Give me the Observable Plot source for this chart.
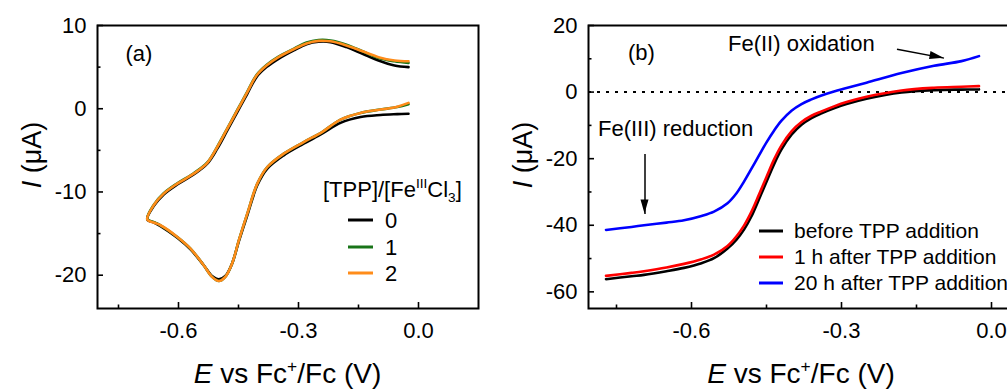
<!DOCTYPE html>
<html><head><meta charset="utf-8">
<script src="https://cdn.jsdelivr.net/npm/d3@7"></script>
<script src="https://cdn.jsdelivr.net/npm/@observablehq/plot@0.6"></script>
<style>
html,body{margin:0;padding:0;background:#fff;overflow:hidden;}
#wrap{position:relative;width:1007px;height:390px;overflow:hidden;background:#fff;}
#a,#b{position:absolute;top:0;}
#a{left:0;width:500px;} #b{left:500px;width:586px;}
#wrap svg{max-width:none !important;}
</style></head><body><div id="wrap"><div id="a"></div><div id="b"></div></div>
<script>
// ---------- Panel (a): cyclic voltammograms ----------
const cvE  = [-0.025,-0.06,-0.10,-0.14,-0.18,-0.22,-0.25,-0.28,-0.31,-0.35,-0.38,-0.405,-0.428,-0.453,-0.478,-0.503,-0.528,-0.562,-0.603,-0.637,-0.662,-0.678,
              -0.66,-0.645,-0.603,-0.57,-0.537,-0.516,-0.499,-0.483,-0.466,-0.449,-0.428,-0.403,-0.378,-0.337,-0.287,-0.241,-0.195,-0.145,-0.095,-0.053,-0.025];
const cvI0 = [5.0,5.2,5.8,6.6,7.4,8.0,8.05,7.75,7.05,6.0,5.0,3.8,1.8,-0.4,-2.6,-4.8,-6.6,-7.9,-9.1,-10.3,-11.7,-13.3,
              -13.7,-14.1,-15.5,-16.9,-18.8,-20.1,-20.5,-20.1,-18.6,-15.9,-12.8,-9.2,-7.2,-5.6,-4.2,-3.0,-1.7,-1.0,-0.75,-0.65,-0.6];
const cvI1 = [5.5,5.7,6.1,6.9,7.7,8.2,8.25,7.95,7.25,6.25,5.25,4.05,2.05,-0.15,-2.35,-4.55,-6.45,-7.75,-8.95,-10.15,-11.55,-13.25,
              -13.65,-14.0,-15.4,-16.8,-18.8,-20.2,-20.7,-20.2,-18.6,-15.8,-12.6,-9.0,-7.0,-5.4,-4.0,-2.8,-1.3,-0.5,-0.1,0.2,0.55];
const cvI2 = [5.7,5.8,6.2,6.9,7.6,8.1,8.15,7.85,7.2,6.2,5.2,4.0,2.0,-0.2,-2.4,-4.6,-6.5,-7.8,-9.0,-10.2,-11.6,-13.3,
              -13.7,-14.0,-15.4,-16.8,-18.8,-20.2,-20.7,-20.2,-18.6,-15.8,-12.6,-9.0,-7.0,-5.4,-4.0,-2.8,-1.3,-0.5,-0.1,0.25,0.7];
const cvRatios = ["0","1","2"];
const cvColors = ["#000000","#187418","#ff8c1a"];

// ---------- Panel (b): linear sweep voltammograms ----------
const lsvE      = [-0.771,-0.72,-0.695,-0.65,-0.615,-0.58,-0.555,-0.528,-0.51,-0.495,-0.48,-0.465,-0.45,-0.435,-0.42,-0.40,-0.38,-0.36,-0.34,-0.315,-0.29,-0.25,-0.18,-0.115,-0.06,-0.025];
const lsvBefore = [-56.2,-55.3,-54.9,-53.8,-52.8,-51.4,-49.9,-47.0,-44.3,-41.3,-37.3,-32.2,-26.9,-21.7,-17.2,-12.8,-9.8,-7.8,-6.4,-4.9,-3.6,-2.0,-0.1,0.6,0.75,0.8];
const lsv1h     = [-55.2,-54.3,-53.8,-52.7,-51.6,-50.2,-48.8,-46.2,-43.3,-40.1,-35.9,-30.8,-25.5,-20.3,-16.0,-11.8,-9.0,-7.1,-5.8,-4.3,-3.0,-1.4,0.5,1.3,1.6,1.8];
const lsv20h    = [-41.4,-40.5,-40.0,-39.2,-38.5,-37.2,-35.9,-33.4,-30.4,-26.9,-23.0,-19.0,-15.1,-11.6,-8.6,-5.6,-3.6,-2.2,-1.0,0.2,1.2,2.8,5.7,7.9,9.3,10.8];
const lsvLabels = ["before TPP addition","1 h after TPP addition","20 h after TPP addition"];
const lsvColors = ["#000000","#ff0000","#0000ff"];

// ---------- ticks & annotations ----------
const xTicks = [-0.6,-0.3,0.0];
const xMinor = [-0.75,-0.45,-0.15];
const yTicksA = [-20,-10,0,10];
const yMinorA = [-15,-5,5];
const yTicksB = [-60,-40,-20,0,20];
const yMinorB = [-50,-30,-10,10];
const tagA = [{x:-0.7325, y:6.6, text:"(a)"}];
const tagB = [{x:-0.727, y:11.7, text:"(b)"}];
const annText = [{x:-0.527, y:14.4, text:"Fe(II) oxidation"},{x:-0.787, y:-11.1, text:"Fe(III) reduction"}];
const annArrows = [{x1:-0.189,y1:12.9,x2:-0.095,y2:10.2},{x1:-0.693,y1:-18.6,x2:-0.693,y2:-36.6}];

const FONT = "'Liberation Sans', Arial, Helvetica, sans-serif";

function series(E, I){ return E.map((e,i)=>({E:e, I:I[i]})); }

function richText(svg, x, y, size, parts, anchor, rotate){
  const t = d3.select(svg).append("text").attr("x",x).attr("y",y)
    .attr("font-size",size).attr("text-anchor",anchor||"start").attr("fill","#000")
    .attr("font-family",FONT);
  if (rotate) t.attr("transform",`rotate(-90 ${x} ${y})`);
  let shift = 0;
  for (const p of parts){
    const s = t.append("tspan").text(p.t);
    let target = 0;
    if (p.k==="sup") target = -0.4*size; else if (p.k==="sub") target = 0.22*size;
    if (target!==shift){ s.attr("dy", target-shift); shift = target; }
    if (p.k==="sup"||p.k==="sub") s.attr("font-size", size*0.62);
    if (p.k==="i") s.attr("font-style","italic");
  }
}
function legend(svg, x0, x1, xl, ys, colors, labels, size){
  const g = d3.select(svg).append("g");
  ys.forEach((y,i)=>{
    g.append("line").attr("x1",x0).attr("x2",x1).attr("y1",y).attr("y2",y)
      .attr("stroke",colors[i]).attr("stroke-width",3);
    g.append("text").attr("x",xl).attr("y",y).attr("dy","0.35em").attr("font-size",size)
      .attr("text-anchor","start").attr("font-family",FONT).attr("fill","#000").text(labels[i]);
  });
}
function arrowHeads(svg, plot, arrows, len, w){
  const sx = plot.scale("x"), sy = plot.scale("y");
  for (const a of arrows){
    const x1=sx.apply(a.x1), y1=sy.apply(a.y1), x2=sx.apply(a.x2), y2=sy.apply(a.y2);
    const dx=x2-x1, dy=y2-y1, L=Math.hypot(dx,dy), ux=dx/L, uy=dy/L;
    const bx=x2-ux*len, by=y2-uy*len;
    const pts=[[x2,y2],[bx-uy*w/2,by+ux*w/2],[bx+uy*w/2,by-ux*w/2]];
    d3.select(svg).append("polygon").attr("points",pts.map(p=>p.join(",")).join(" ")).attr("fill","#000");
  }
}

const baseStyle = {fontFamily: FONT, fontSize: "22px", color: "#000", background: "#fff", overflow: "visible", maxWidth: "none"};

// ---------- Panel (a) ----------
const plotHA = 283, plotWA = 381;
const A = Plot.plot({
  width: 500, height: 390, marginLeft: 97, marginRight: 22, marginTop: 25, marginBottom: 82,
  style: baseStyle,
  x: {domain: [-0.8025, 0.15]},
  y: {domain: [-24, 10]},
  marks: [
    Plot.line(series(cvE, cvI0), {x:"E", y:"I", stroke: cvColors[0], strokeWidth: 2.6, curve: "catmull-rom"}),
    Plot.line(series(cvE, cvI1), {x:"E", y:"I", stroke: cvColors[1], strokeWidth: 2.6, curve: "catmull-rom"}),
    Plot.line(series(cvE, cvI2), {x:"E", y:"I", stroke: cvColors[2], strokeWidth: 2.6, curve: "catmull-rom"}),
    Plot.tickX(xTicks, {x: d=>d, insetTop: plotHA-6, strokeWidth: 1.6}),
    Plot.tickX(xMinor, {x: d=>d, insetTop: plotHA-3.5, strokeWidth: 1.6}),
    Plot.tickY(yTicksA, {y: d=>d, insetRight: plotWA-6, strokeWidth: 1.6}),
    Plot.tickY(yMinorA, {y: d=>d, insetRight: plotWA-3.5, strokeWidth: 1.6}),
    Plot.axisX({ticks: xTicks, tickSize: 0, tickPadding: 14, tickFormat: d=>d.toFixed(1), label: null, fontSize: 22}),
    Plot.axisY({ticks: yTicksA, tickSize: 0, tickPadding: 11, tickFormat: d=>String(d), label: null, fontSize: 22}),
    Plot.text(tagA, {x:"x", y:"y", text:"text", textAnchor:"start", fontSize: 22}),
    Plot.frame({strokeWidth: 2})
  ]
});
document.getElementById("a").append(A);
richText(A, 287.5, 383, 28, [{t:"E",k:"i"},{t:" vs Fc"},{t:"+",k:"sup"},{t:"/Fc (V)"}], "middle");
richText(A, 41, 155, 27, [{t:"I",k:"i"},{t:" (μA)"}], "middle", true);
richText(A, 323, 197, 22, [{t:"[TPP]/[Fe"},{t:"III",k:"sup"},{t:"Cl"},{t:"3",k:"sub"},{t:"]"}], "start");
legend(A, 348, 373, 385, [220,247,273], cvColors, cvRatios, 22);

// ---------- Panel (b) ----------
const plotHB = 283, plotWB = 478;
const B = Plot.plot({
  width: 586, height: 390, marginLeft: 88, marginRight: 20, marginTop: 25, marginBottom: 82,
  style: baseStyle,
  x: {domain: [-0.806, 0.15]},
  y: {domain: [-65, 20]},
  marks: [
    Plot.ruleY([0], {stroke: "#000", strokeWidth: 2, strokeDasharray: "3,6"}),
    Plot.line(series(lsvE, lsvBefore), {x:"E", y:"I", stroke: lsvColors[0], strokeWidth: 2.6, curve: "catmull-rom"}),
    Plot.line(series(lsvE, lsv1h), {x:"E", y:"I", stroke: lsvColors[1], strokeWidth: 2.6, curve: "catmull-rom"}),
    Plot.line(series(lsvE, lsv20h), {x:"E", y:"I", stroke: lsvColors[2], strokeWidth: 2.6, curve: "catmull-rom"}),
    Plot.tickX(xTicks, {x: d=>d, insetTop: plotHB-6, strokeWidth: 1.6}),
    Plot.tickX(xMinor, {x: d=>d, insetTop: plotHB-3.5, strokeWidth: 1.6}),
    Plot.tickY(yTicksB, {y: d=>d, insetRight: plotWB-6, strokeWidth: 1.6}),
    Plot.tickY(yMinorB, {y: d=>d, insetRight: plotWB-3.5, strokeWidth: 1.6}),
    Plot.axisX({ticks: xTicks, tickSize: 0, tickPadding: 14, tickFormat: d=>d.toFixed(1), label: null, fontSize: 22}),
    Plot.axisY({ticks: yTicksB, tickSize: 0, tickPadding: 11, tickFormat: d=>String(d), label: null, fontSize: 22}),
    Plot.text(tagB, {x:"x", y:"y", text:"text", textAnchor:"start", fontSize: 22}),
    Plot.text(annText, {x:"x", y:"y", text:"text", textAnchor:"start", fontSize: 22}),
    Plot.link(annArrows, {x1:"x1", y1:"y1", x2:"x2", y2:"y2", stroke:"#000", strokeWidth: 1.5}),
    Plot.frame({strokeWidth: 2})
  ]
});
document.getElementById("b").append(B);
arrowHeads(B, B, annArrows, 14, 8);
richText(B, 301, 383, 28, [{t:"E",k:"i"},{t:" vs Fc"},{t:"+",k:"sup"},{t:"/Fc (V)"}], "middle");
richText(B, 32, 155, 27, [{t:"I",k:"i"},{t:" (μA)"}], "middle", true);
legend(B, 259, 283, 294, [231,257,283], lsvColors, lsvLabels, 21);
</script></body></html>
